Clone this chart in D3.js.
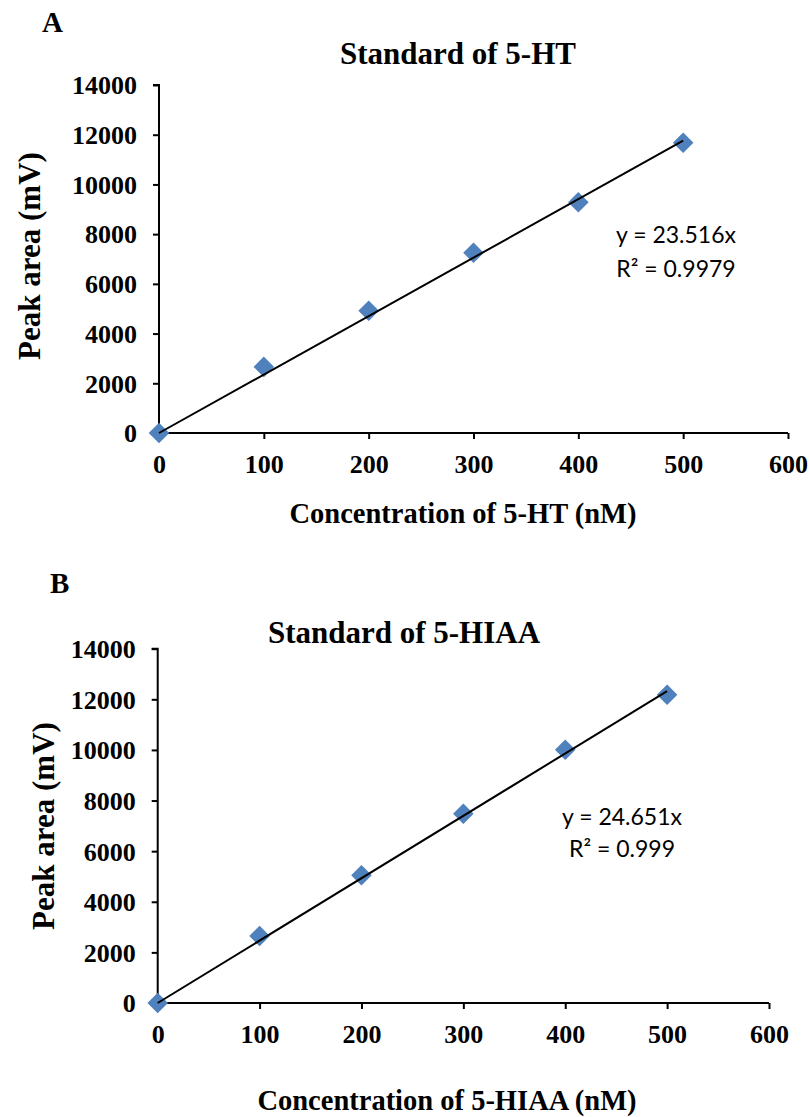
<!DOCTYPE html>
<html>
<head>
<meta charset="utf-8">
<script src="https://cdn.jsdelivr.net/npm/d3@7"></script>
<style>
  html, body { margin: 0; padding: 0; background: #fff; }
  svg { display: block; }
  .serif { font-family: "Liberation Serif", "Times New Roman", serif; font-weight: bold; fill: #000; }
  .eq { font-family: Lato, "Open Sans", sans-serif; fill: #000; }
</style>
</head>
<body>
<svg id="chart" width="810" height="1117"></svg>
<script>
// ---- data ----
const concentrations = [0, 100, 200, 300, 400, 500];
const peakArea5HT   = [0, 2660, 4920, 7250, 9285, 11675];
const peakArea5HIAA = [0, 2650, 5045, 7480, 10010, 12180];
const slope5HT = 23.516, r2_5HT = "0.9979";
const slope5HIAA = 24.651, r2_5HIAA = "0.999";
const xTicks = [0, 100, 200, 300, 400, 500, 600];
const yTicks = [0, 2000, 4000, 6000, 8000, 10000, 12000, 14000];
const panelLetters = ["A", "B"];
const titles = ["Standard of 5-HT", "Standard of 5-HIAA"];
const xTitles = ["Concentration of 5-HT (nM)", "Concentration of 5-HIAA (nM)"];
const yTitle = "Peak area (mV)";

// ---- layout ----
const panels = [
  { values: peakArea5HT, slope: slope5HT, r2: r2_5HT, letter: panelLetters[0], title: titles[0], xTitle: xTitles[0],
    x0: 159, x1: 788, y0: 433, y1: 85,
    letterPos: [42, 32], titlePos: [458, 64], xTitlePos: [463, 523], yTitlePos: [40, 256],
    tickLabelBaseline: 473, eqPos: [676, 243, 277] },
  { values: peakArea5HIAA, slope: slope5HIAA, r2: r2_5HIAA, letter: panelLetters[1], title: titles[1], xTitle: xTitles[1],
    x0: 157.7, x1: 769, y0: 1003, y1: 648.7,
    letterPos: [50, 593], titlePos: [404, 643], xTitlePos: [447, 1110], yTitlePos: [54, 826],
    tickLabelBaseline: 1043, eqPos: [622, 825, 857] }
];

const svg = d3.select("#chart");
const markerColor = "#4F81BD";

panels.forEach(p => {
  const g = svg.append("g");
  const x = d3.scaleLinear().domain([0, 600]).range([p.x0, p.x1]);
  const y = d3.scaleLinear().domain([0, 14000]).range([p.y0, p.y1]);

  // Y axis
  const yAxis = g.append("g")
    .attr("transform", `translate(${p.x0},0)`)
    .call(d3.axisLeft(y).tickValues(yTicks).tickSize(6).tickPadding(16).tickFormat(d3.format("d")));
  yAxis.select(".domain").attr("stroke", "#000").attr("stroke-width", 2).attr("d", `M0,${p.y0}V${p.y1}H-6`);
  yAxis.selectAll(".tick line").attr("stroke", "#000").attr("stroke-width", 2);
  yAxis.selectAll(".tick text").attr("class", "serif").style("font-size", "26px").attr("dy", "0.34em");

  // X axis
  const xAxis = g.append("g")
    .attr("transform", `translate(0,${p.y0})`)
    .call(d3.axisBottom(x).tickValues(xTicks).tickSize(6).tickPadding(14).tickFormat(d3.format("d")));
  xAxis.select(".domain").attr("stroke", "#000").attr("stroke-width", 2).attr("d", `M${p.x0},0H${p.x1}`);
  xAxis.selectAll(".tick line").attr("stroke", "#000").attr("stroke-width", 2);
  xAxis.selectAll(".tick text").attr("class", "serif").style("font-size", "26px")
    .attr("y", null).attr("dy", null)
    .attr("transform", `translate(0,${p.tickLabelBaseline - p.y0})`);

  // markers
  const data = concentrations.map((c, i) => ({ c, v: p.values[i] }));
  g.selectAll("path.pt").data(data).enter().append("path")
    .attr("class", "pt")
    .attr("d", d3.symbol().type(d3.symbolDiamond2).size(270))
    .attr("transform", d => `translate(${x(d.c)},${y(d.v)})`)
    .attr("fill", markerColor);

  // trend line
  const xs = [0, d3.max(concentrations)];
  g.append("line")
    .attr("x1", x(xs[0])).attr("y1", y(p.slope * xs[0]))
    .attr("x2", x(xs[1])).attr("y2", y(p.slope * xs[1]))
    .attr("stroke", "#000").attr("stroke-width", 2);

  // equation
  g.append("text").attr("class", "eq").attr("text-anchor", "middle").style("font-size", "23px")
    .attr("x", p.eqPos[0]).attr("y", p.eqPos[1]).text(`y = ${p.slope}x`);
  g.append("text").attr("class", "eq").attr("text-anchor", "middle").style("font-size", "23px")
    .attr("x", p.eqPos[0]).attr("y", p.eqPos[2]).text(`R² = ${p.r2}`);

  // texts
  g.append("text").attr("class", "serif").style("font-size", "29px")
    .attr("x", p.letterPos[0]).attr("y", p.letterPos[1]).text(p.letter);
  g.append("text").attr("class", "serif").style("font-size", "31px").attr("text-anchor", "middle")
    .attr("x", p.titlePos[0]).attr("y", p.titlePos[1]).text(p.title);
  g.append("text").attr("class", "serif").style("font-size", "28.5px").attr("text-anchor", "middle")
    .attr("x", p.xTitlePos[0]).attr("y", p.xTitlePos[1]).text(p.xTitle);
  g.append("text").attr("class", "serif").style("font-size", "31px").attr("text-anchor", "middle")
    .attr("transform", `translate(${p.yTitlePos[0]},${p.yTitlePos[1]}) rotate(-90)`).text(yTitle);
});
</script>
</body>
</html>
